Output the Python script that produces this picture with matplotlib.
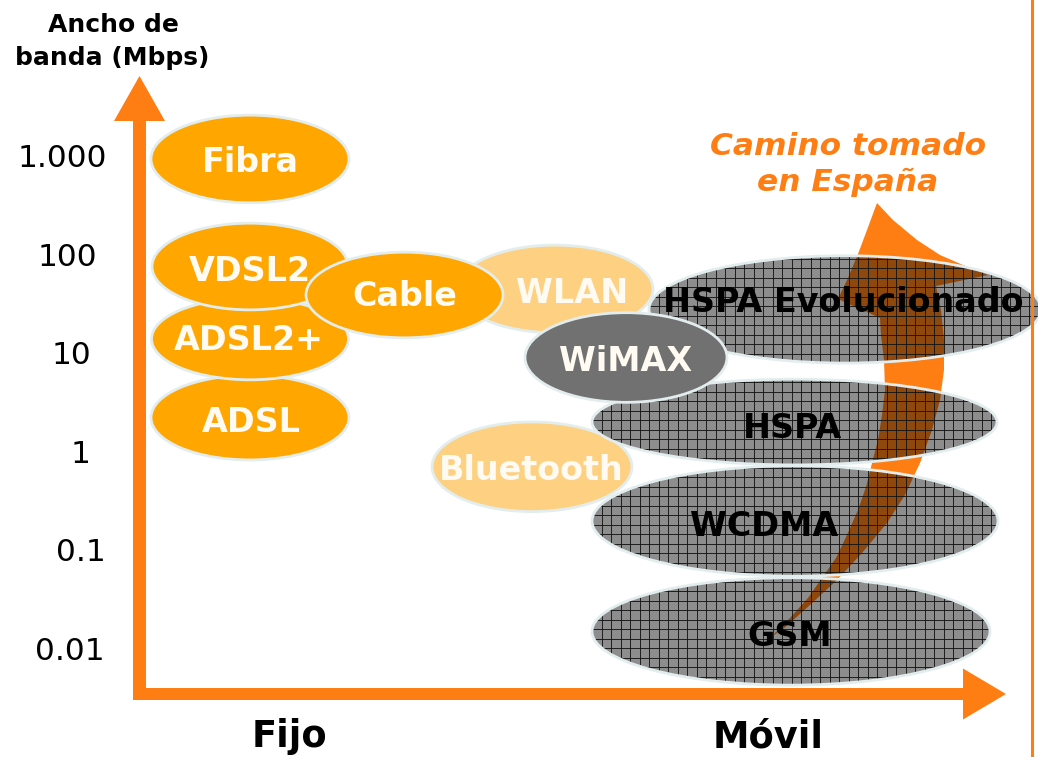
import numpy as np
import matplotlib
matplotlib.use("Agg")
import matplotlib.pyplot as plt
from matplotlib.patches import Ellipse, FancyArrow, Polygon
from matplotlib.collections import LineCollection

# ---------------- data ----------------
tech_names = ['Fibra', 'ADSL', 'ADSL2+', 'VDSL2', 'WLAN', 'Cable', 'WiMAX',
              'HSPA Evolucionado', 'HSPA', 'Bluetooth', 'WCDMA', 'GSM']
bandwidth_mbps = [933, 2.21, 13.9, 75.5, 44.7, 38.8, 9.0,
                  27.7, 1.99, 0.70, 0.197, 0.0149]          # centre of each bubble
span_decades = [0.89, 0.86, 0.83, 0.88, 0.89, 0.87, 0.91,
                1.09, 0.87, 0.91, 1.12, 1.09]               # vertical extent (decades)
tech_group = ['fijo', 'fijo', 'fijo', 'fijo', 'inal', 'fijo', 'wimax',
              'movil', 'movil', 'inal', 'movil', 'movil']

tick_values = [0.01, 0.1, 1, 10, 100, 1000]
tick_labels = ['0.01', '0.1', '1', '10', '100', '1.000']
axis_title = ['Ancho de', 'banda (Mbps)']
category_labels = ['Fijo', 'Móvil']
path_title = ['Camino tomado', 'en España']

# ---------------- layout ----------------
W, H = 1038, 757
PX_DEC = 98.5          # pixels per decade
Y0_PX = 648.5          # pixel row of 0.01 Mbps


def to_y(py):
    return np.log10(0.01) + (Y0_PX - py) / PX_DEC


def cap_base(cy_px, fs):
    # baseline that puts the middle of capital letters at cy_px
    return to_y(cy_px + 0.729 * fs * 100 / 72 / 2)


bubble_x = [250, 250, 250, 250, 555, 404.5, 626, 845, 794.5, 532, 795, 791]
bubble_w = [198, 198, 197, 196, 196, 197, 202, 392, 405, 200, 406, 398]
bubble_z = [2, 2, 3, 4, 5, 6, 7, 4, 4, 3, 5, 6]
label_x = [250, 251, 249, 250, 572, 405, 626, 843, 793, 531, 764, 790]
label_cy = [160, 419.5, 337.5, 268.5, 290.5, 293.5, 359, 299.5, 425.5, 468, 523.5, 633.5]

tick_x = [70, 81, 81, 71.5, 67.5, 62.5]

ORANGE = '#FE7E14'
FILL = {'fijo': '#FFA600', 'inal': '#FDD181', 'wimax': '#717171', 'movil': '#8D8D8D'}
TXT = {'fijo': '#FFFBF2', 'inal': '#FFFBF2', 'wimax': '#FFFBF2', 'movil': 'black'}
EDGE = '#E3EDED'
BROWN = '#8E470D'

# outline of the "Camino tomado en España" arrow (pixel space)
path_outline_px = [
    (772, 636), (790, 618), (808, 598), (822, 578), (836, 558), (847, 535),
    (858, 510), (866, 487), (872, 463), (878, 440), (882, 415), (885, 390),
    (884, 360), (881, 335), (880, 318), (838, 299), (848, 278), (858, 254),
    (867, 230), (877, 203), (893, 220), (917, 240), (940, 255), (963, 265),
    (988, 275), (936, 286), (941, 310), (944, 340), (944, 370), (940, 400),
    (932, 430), (920, 463), (905, 495), (887, 523), (862, 553), (837, 580),
    (810, 605), (782, 630)]

# ---------------- figure ----------------
fig = plt.figure(figsize=(W / 100, H / 100), dpi=100)
ax = fig.add_axes([0, 0, 1, 1])
ax.set_xlim(0, W)
ax.set_ylim(to_y(H), to_y(0))
ax.axis('off')

arrow_verts = [(x, to_y(y)) for x, y in path_outline_px]
ax.add_patch(Polygon(arrow_verts, closed=True, fc=ORANGE, ec='none', zorder=1))

grid_step = 9.5
grid_x = np.arange(3, W, grid_step)
grid_py = np.arange(2, H, grid_step)

for name, bw, span, grp, cx, w, z in zip(tech_names, bandwidth_mbps, span_decades,
                                          tech_group, bubble_x, bubble_w, bubble_z):
    cy = np.log10(bw)
    fill = Ellipse((cx, cy), w, span, fc=FILL[grp], ec='none', zorder=z)
    ax.add_patch(fill)
    if grp == 'movil':
        ov = Polygon(arrow_verts, closed=True, fc=BROWN, ec='none', zorder=z + 0.01)
        ax.add_patch(ov)
        ov.set_clip_path(fill)
        segs = [[(gx, cy - span), (gx, cy + span)] for gx in grid_x
                if cx - w / 2 - 5 < gx < cx + w / 2 + 5]
        segs += [[(cx - w, to_y(p)), (cx + w, to_y(p))] for p in grid_py
                 if cy - span < to_y(p) < cy + span]
        lc = LineCollection(segs, colors='#151515', linewidths=0.65, zorder=z + 0.02)
        ax.add_collection(lc)
        lc.set_clip_path(fill)
    ax.add_patch(Ellipse((cx, cy), w, span, fc='none', ec=EDGE, lw=2.0, zorder=z + 0.03))

for name, grp, lx, lcy in zip(tech_names, tech_group, label_x, label_cy):
    ax.text(lx, cap_base(lcy, 24), name, ha='center', va='baseline', fontsize=24,
            fontweight='bold', color=TXT[grp], family='DejaVu Sans', zorder=20)

# axes arrows
ax.add_patch(FancyArrow(139.5, to_y(700), 0, to_y(76) - to_y(700), width=13,
                        head_width=51, head_length=45 / PX_DEC,
                        length_includes_head=True, fc=ORANGE, ec='none', zorder=15))
ax.add_patch(FancyArrow(133, to_y(694), 1006 - 133, 0, width=12 / PX_DEC,
                        head_width=51 / PX_DEC, head_length=43,
                        length_includes_head=True, fc=ORANGE, ec='none', zorder=15))
ax.axvline(1032, color=ORANGE, lw=2.2, zorder=20)

# tick labels
for v, lab, tx in zip(tick_values, tick_labels, tick_x):
    ax.text(tx, np.log10(v) - 0.729 * 22.5 * 100 / 72 / 2 / PX_DEC, lab,
            ha='center', va='baseline', fontsize=22.5, color='black', zorder=20)

# titles
ax.text(113.5, to_y(32), axis_title[0], ha='center', va='baseline', fontsize=18,
        fontweight='bold', color='black')
ax.text(112.5, to_y(64.5), axis_title[1], ha='center', va='baseline', fontsize=18,
        fontweight='bold', color='black')
ax.text(289.5, to_y(747), category_labels[0], ha='center', va='baseline',
        fontsize=26.5, fontweight='bold', color='black')
ax.text(768.5, to_y(747), category_labels[1], ha='center', va='baseline',
        fontsize=26.5, fontweight='bold', color='black')
ax.text(848, to_y(155), path_title[0], ha='center', va='baseline', fontsize=22.5,
        fontweight='bold', style='italic', color=ORANGE, zorder=20)
ax.text(848, to_y(191), path_title[1], ha='center', va='baseline', fontsize=22.5,
        fontweight='bold', style='italic', color=ORANGE, zorder=20)

fig.savefig('out.png', dpi=100)
